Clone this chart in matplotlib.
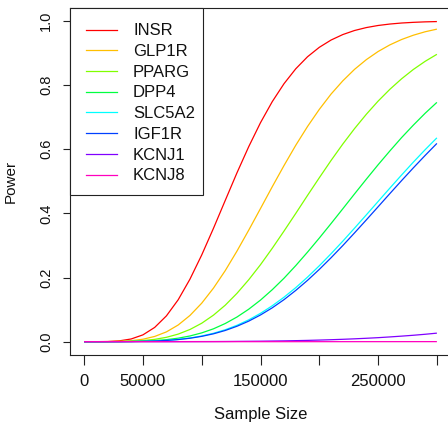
import matplotlib
matplotlib.use("Agg")
import matplotlib.pyplot as plt
from matplotlib.lines import Line2D
from matplotlib.patches import Rectangle

plt.rcParams['font.family'] = ['Liberation Sans', 'DejaVu Sans']

sample_size = [0, 10000, 20000, 30000, 40000, 50000, 60000, 70000, 80000, 90000,
               100000, 110000, 120000, 130000, 140000, 150000, 160000, 170000, 180000, 190000,
               200000, 210000, 220000, 230000, 240000, 250000, 260000, 270000, 280000, 290000,
               300000]

INSR = [0.0, 0.00004, 0.0005, 0.0026, 0.0084, 0.0212, 0.0444, 0.0805, 0.1307, 0.1949,
        0.2703, 0.3535, 0.4404, 0.5267, 0.6083, 0.6830, 0.7486, 0.8046, 0.8511, 0.8886,
        0.9180, 0.9407, 0.9578, 0.9705, 0.9796, 0.9861, 0.9906, 0.9938, 0.9959, 0.9974,
        0.9983]
GLP1R = [0.0, 0.00002, 0.0002, 0.0009, 0.0030, 0.0076, 0.0163, 0.0305, 0.0520, 0.0817,
         0.1200, 0.1670, 0.2215, 0.2826, 0.3479, 0.4153, 0.4832, 0.5493, 0.6126, 0.6711,
         0.7244, 0.7722, 0.8135, 0.8494, 0.8796, 0.9049, 0.9256, 0.9424, 0.9558, 0.9665,
         0.9747]
PPARG = [0.0, 0.00001, 0.0001, 0.0004, 0.0013, 0.0034, 0.0072, 0.0136, 0.0236, 0.0380,
         0.0575, 0.0827, 0.1137, 0.1508, 0.1932, 0.2401, 0.2912, 0.3450, 0.4001, 0.4562,
         0.5112, 0.5651, 0.6164, 0.6646, 0.7092, 0.7502, 0.7870, 0.8199, 0.8490, 0.8743,
         0.8962]
DPP4 = [0.0, 0.00001, 0.0001, 0.0002, 0.0006, 0.0016, 0.0033, 0.0063, 0.0109, 0.0178,
        0.0274, 0.0401, 0.0566, 0.0769, 0.1013, 0.1297, 0.1621, 0.1979, 0.2373, 0.2793,
        0.3231, 0.3684, 0.4145, 0.4610, 0.5068, 0.5517, 0.5948, 0.6365, 0.6754, 0.7123,
        0.7463]
SLC5A2 = [0.0, 0.00001, 0.00004, 0.0001, 0.0004, 0.0010, 0.0021, 0.0040, 0.0070, 0.0115,
          0.0177, 0.0262, 0.0372, 0.0511, 0.0681, 0.0884, 0.1120, 0.1387, 0.1685, 0.2013,
          0.2367, 0.2743, 0.3135, 0.3542, 0.3955, 0.4372, 0.4789, 0.5199, 0.5600, 0.5987,
          0.6357]
IGF1R = [0.0, 0.00001, 0.00004, 0.0001, 0.0004, 0.0010, 0.0020, 0.0038, 0.0066, 0.0107,
         0.0166, 0.0245, 0.0349, 0.0481, 0.0641, 0.0833, 0.1056, 0.1311, 0.1599, 0.1913,
         0.2254, 0.2617, 0.2998, 0.3394, 0.3798, 0.4207, 0.4618, 0.5024, 0.5422, 0.5808,
         0.6183]
KCNJ1 = [0.0, 0.0, 0.0, 0.00001, 0.00002, 0.00003, 0.00005, 0.00009, 0.00014, 0.0002,
         0.0003, 0.0004, 0.0006, 0.0009, 0.0012, 0.0015, 0.0020, 0.0025, 0.0032, 0.0040,
         0.0050, 0.0061, 0.0074, 0.0089, 0.0106, 0.0125, 0.0148, 0.0173, 0.0200, 0.0231,
         0.0266]
KCNJ8 = [0.0, 0.0, 0.0, 0.0, 0.0, 0.0, 0.0, 0.0, 0.0, 0.0,
         0.0, 0.0, 0.0, 0.0, 0.0, 0.0, 0.0, 0.0, 0.00001, 0.00001,
         0.00001, 0.00002, 0.00002, 0.00003, 0.00004, 0.00005, 0.00006, 0.00008, 0.0001, 0.00012,
         0.00015]

genes = ['INSR', 'GLP1R', 'PPARG', 'DPP4', 'SLC5A2', 'IGF1R', 'KCNJ1', 'KCNJ8']
series = [INSR, GLP1R, PPARG, DPP4, SLC5A2, IGF1R, KCNJ1, KCNJ8]
colors = ['#FF0000', '#FFBF00', '#80FF00', '#00FF40', '#00FFFF', '#0040FF', '#8000FF', '#FF00BF']

xticks = [0, 50000, 100000, 150000, 200000, 250000, 300000]
xticklabels = ['0', '50000', '', '150000', '', '250000', '']
yticks = [0.0, 0.2, 0.4, 0.6, 0.8, 1.0]
yticklabels = ['0.0', '0.2', '0.4', '0.6', '0.8', '1.0']

W, H = 448, 423
fig = plt.figure(figsize=(W / 100, H / 100), dpi=100)

def fx(px):
    return px / W

def fy(py):
    return 1 - py / H

left, right, top, bottom = 70, 451, 8.2, 354.5
ax = fig.add_axes([fx(left), fy(bottom), (right - left) / W, (bottom - top) / H])

for vals, col in zip(series, colors):
    ax.plot(sample_size, vals, color=col, lw=0.9, solid_capstyle='butt')

ax.set_xlim(-12000, 312000)
ax.set_ylim(-0.04, 1.04)
FS = 12
ax.set_xticks(xticks)
ax.set_xticklabels(xticklabels, fontsize=FS)
ax.set_yticks(yticks)
ax.set_yticklabels(yticklabels, fontsize=10.5, rotation=90, va='center')
ax.tick_params(axis='x', length=7, width=0.8, pad=7.0, colors='#222222', labelcolor='#111111')
ax.tick_params(axis='y', length=4.8, width=0.8, pad=7.3, colors='#222222', labelcolor='#111111')
for s in ax.spines.values():
    s.set_linewidth(0.8)
    s.set_color('#222222')

fig.text(fx(260.5), fy(419), 'Sample Size', ha='center', va='baseline', fontsize=FS, color='#111111')
fig.text(fx(10.6), fy(181), 'Power', ha='center', va='center', rotation=90, fontsize=11, color='#111111')

# legend box (top-left of plot region)
lx0, ly0, lx1, ly1 = 70, 8.2, 202.7, 194.7
fig.patches.append(Rectangle((fx(lx0), fy(ly1)), (lx1 - lx0) / W, (ly1 - ly0) / H,
                             transform=fig.transFigure, facecolor='white',
                             edgecolor='#222222', linewidth=0.8, zorder=5))
for i, (g, col) in enumerate(zip(genes, colors)):
    yc = 29.7 + 20.7 * i
    fig.lines.append(Line2D([fx(86), fx(117)], [fy(yc), fy(yc)], transform=fig.transFigure,
                            color=col, lw=0.9, zorder=6))
    fig.text(fx(133), fy(yc + 5.6), g, ha='left', va='baseline', fontsize=FS,
             color='#111111', zorder=7)

fig.savefig('out.png', dpi=100)
